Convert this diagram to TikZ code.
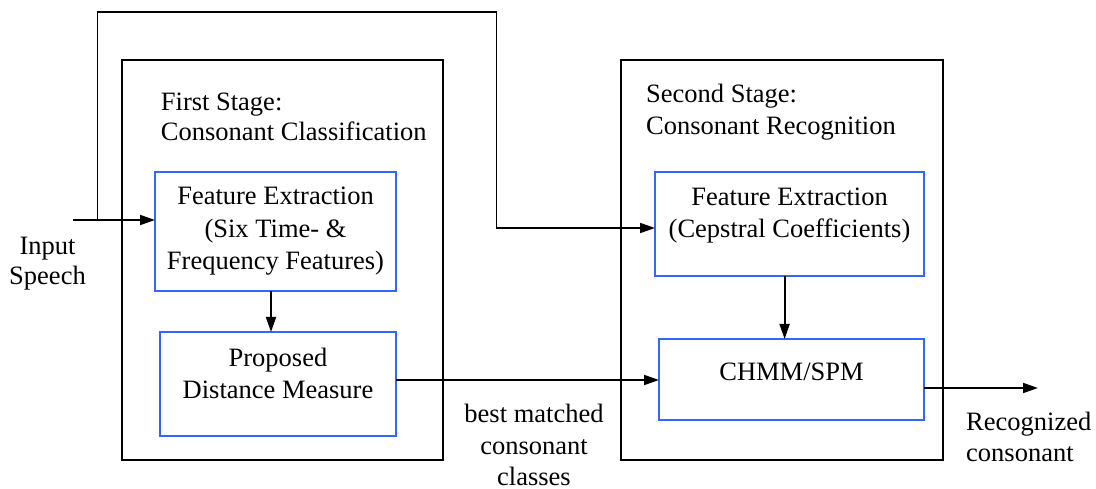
\documentclass[tikz,border=0pt]{standalone}
\usepackage{fontspec}
\setmainfont{Liberation Serif}
\usetikzlibrary{arrows.meta}
\definecolor{boxblue}{RGB}{51,102,255}

\begin{document}
\begin{tikzpicture}[x=1pt,y=-1pt,
  stagebox/.style={draw=black, line width=2.8pt, inner sep=0pt, outer sep=0pt, anchor=north west},
  procbox/.style={draw=boxblue, line width=2pt, inner sep=0pt, outer sep=0pt, anchor=north west},
  txt/.style={inner sep=0pt, anchor=base, font=\fontsize{26.5}{32}\selectfont},
  txtl/.style={txt, anchor=base west},
  flow/.style={line width=1.8pt, -{Triangle[length=15pt,width=10pt]}},
  wire/.style={line width=1.8pt}]
\useasboundingbox (0,0) rectangle (1096,489);

% stage frames
\node[stagebox, minimum width=321pt, minimum height=400pt] (s1) at (122,60) {};
\node[stagebox, minimum width=322pt, minimum height=400pt] (s2) at (621,60) {};

% processing blocks
\node[procbox, minimum width=241pt, minimum height=119pt] (fe1) at (155,172.5) {};
\node[procbox, minimum width=236pt, minimum height=104pt] (pdm) at (160,332) {};
\node[procbox, minimum width=269pt, minimum height=104pt] (fe2) at (655,172) {};
\node[procbox, minimum width=265pt, minimum height=81pt] (chmm) at (659,339) {};

% stage titles
\node[txtl] (s1a) at (160.7,110.7) {First Stage:};
\node[txtl] (s1b) at (160.7,141) {Consonant Classification};
\node[txtl] (s2a) at (646,102.7) {Second Stage:};
\node[txtl] (s2b) at (646,135) {Consonant Recognition};

% block texts
\node[txt] (fe1a) at (275.5,205) {Feature Extraction};
\node[txt] (fe1b) at (275.5,238) {(Six Time- \&};
\node[txt] (fe1c) at (275.5,270) {Frequency Features)};
\node[txt] (pdma) at (278,366.7) {Proposed};
\node[txt] (pdmb) at (278,399) {Distance Measure};
\node[txt] (fe2a) at (789.5,205.7) {Feature Extraction};
\node[txt] (fe2b) at (789.5,237.7) {(Cepstral Coefficients)};
\node[txt] (chmmt) at (791.5,380) {CHMM/SPM};

% outside labels
\node[txt] (in1) at (47.5,255) {Input};
\node[txt] (in2) at (47.5,285) {Speech};
\node[txt] (bm1) at (534,422.7) {best matched};
\node[txt] (bm2) at (534,454) {consonant};
\node[txt] (bm3) at (534,485) {classes};
\node[txtl] (rc1) at (966,430.7) {Recognized};
\node[txtl] (rc2) at (966,461) {consonant};

% helper points
\coordinate (inStart) at (73,220);
\coordinate (loopA) at (97.5,220);
\coordinate (loopTop) at (496.5,12);
\coordinate (loopTurn) at (496.5,228);
\coordinate (ax1) at (271,0);
\coordinate (ax2) at (784.6,0);
\coordinate (ly) at (0,380);
\coordinate (outEnd) at (1038,388);

% connectors
\draw[flow] (inStart) -- (inStart -| fe1.west);
\draw[flow] (loopA) |- (loopTop) -- (loopTurn) -- (loopTurn -| fe2.west);
\draw[flow] (fe1.south -| ax1) -- (pdm.north -| ax1);
\draw[flow] (fe2.south -| ax2) -- (chmm.north -| ax2);
\draw[flow] (pdm.east |- ly) -- (chmm.west |- ly);
\draw[flow] (chmm.east |- outEnd) -- (outEnd);
\end{tikzpicture}
\end{document}
